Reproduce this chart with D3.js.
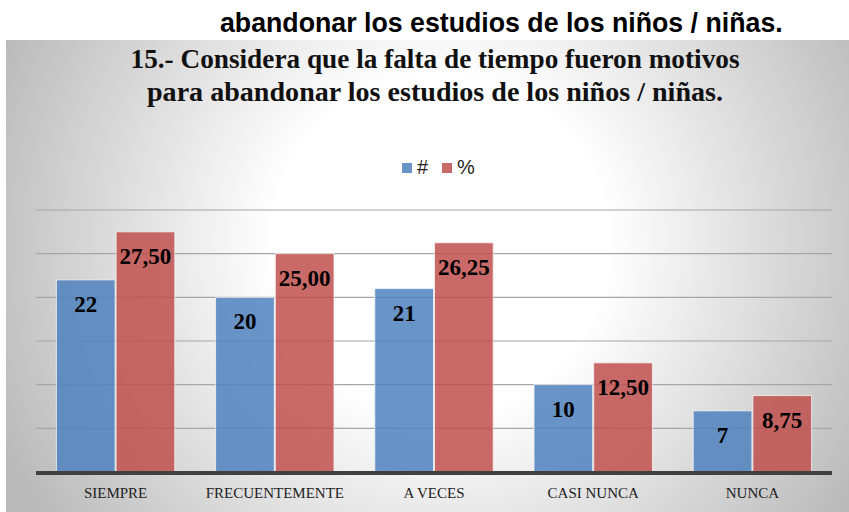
<!DOCTYPE html>
<html>
<head>
<meta charset="utf-8">
<script src="https://d3js.org/d3.v7.min.js"></script>
<style>
  body { margin: 0; background: #fff; }
  svg { display: block; }
</style>
</head>
<body>
<svg id="chart" width="849" height="512"></svg>
<script>
var categories = ['SIEMPRE', 'FRECUENTEMENTE', 'A VECES', 'CASI NUNCA', 'NUNCA'];
var countValues = [22, 20, 21, 10, 7];
var percentValues = [27.5, 25, 26.25, 12.5, 8.75];
var seriesNames = ['#', '%'];
var gridTicks = [5, 10, 15, 20, 25, 30];

var topText = 'abandonar los estudios de los niños / niñas.';
var titleLines = ['15.- Considera que la falta de tiempo fueron motivos',
                  'para abandonar los estudios de los niños / niñas.'];

var colors = { '#': '#4F81BD', '%': '#C0504D' };

var svg = d3.select('#chart');

// background gradient of the chart area
var defs = svg.append('defs');
var grad = defs.append('radialGradient')
  .attr('id', 'bg')
  .attr('gradientUnits', 'userSpaceOnUse')
  .attr('cx', 440).attr('cy', 245).attr('r', 480);
grad.append('stop').attr('offset', 0).attr('stop-color', '#ffffff');
grad.append('stop').attr('offset', 0.35).attr('stop-color', '#ffffff');
grad.append('stop').attr('offset', 1).attr('stop-color', '#bababa');

svg.append('rect')
  .attr('x', 6).attr('y', 40)
  .attr('width', 843).attr('height', 472)
  .attr('fill', 'url(#bg)');

// fits a text element to a target width by scaling its font size
function fit(sel, target) {
  var fs = parseFloat(sel.attr('font-size'));
  var w = sel.node().getComputedTextLength();
  sel.attr('font-size', (fs * target / w).toFixed(2));
}

var top1 = svg.append('text')
  .attr('x', 220).attr('y', 32)
  .attr('font-family', 'Liberation Sans, Arial, sans-serif')
  .attr('font-weight', 'bold')
  .attr('font-size', 22)
  .attr('fill', '#000')
  .text(topText);
fit(top1, 563);

// title: the original face is narrower, so squeeze a taller font to width
var titleWidths = [609, 576];
titleLines.forEach(function(t, i) {
  svg.append('text')
    .attr('x', 435).attr('y', 68 + i * 33)
    .attr('text-anchor', 'middle')
    .attr('font-family', 'Liberation Serif, Times New Roman, serif')
    .attr('font-weight', 'bold')
    .attr('font-size', 28)
    .attr('textLength', titleWidths[i])
    .attr('lengthAdjust', 'spacingAndGlyphs')
    .attr('fill', '#111')
    .text(t);
});

// legend
svg.append('rect')
  .attr('x', 388).attr('y', 143).attr('width', 93).attr('height', 39)
  .attr('fill', '#fff').attr('opacity', 0.35);
var legendX = [402, 442];
seriesNames.forEach(function(s, i) {
  svg.append('rect')
    .attr('x', legendX[i]).attr('y', 163)
    .attr('width', 10).attr('height', 10)
    .attr('fill', colors[s]).attr('fill-opacity', 0.85);
  svg.append('text')
    .attr('x', legendX[i] + 15).attr('y', 174)
    .attr('font-family', 'Liberation Sans, Arial, sans-serif')
    .attr('font-size', i === 0 ? 20 : 20)
    .attr('fill', '#222')
    .text(s);
});

// scales
var x0 = d3.scaleBand()
  .domain(categories)
  .range([36, 832])
  .paddingInner(0.25)
  .paddingOuter(0.125);

var x1 = d3.scaleBand()
  .domain(seriesNames)
  .range([0, x0.bandwidth()]);

var y = d3.scaleLinear()
  .domain([0, 30])
  .range([472, 210]);

// gridlines
svg.append('g')
  .selectAll('line')
  .data(gridTicks)
  .join('line')
    .attr('x1', 36).attr('x2', 832)
    .attr('y1', d => y(d)).attr('y2', d => y(d))
    .attr('stroke', '#a6a6a6')
    .attr('stroke-width', 1.2);

var data = categories.map(function(c, i) {
  return { cat: c, values: [
    { key: '#', value: countValues[i], label: String(countValues[i]) },
    { key: '%', value: percentValues[i], label: percentValues[i].toFixed(2).replace('.', ',') }
  ] };
});

var groups = svg.append('g')
  .selectAll('g')
  .data(data)
  .join('g')
    .attr('transform', d => `translate(${x0(d.cat)},0)`);

groups.selectAll('rect')
  .data(d => d.values)
  .join('rect')
    .attr('x', d => x1(d.key) + 0.5)
    .attr('y', d => y(d.value))
    .attr('width', x1.bandwidth() - 1)
    .attr('height', d => y(0) - y(d.value))
    .attr('fill', d => colors[d.key])
    .attr('fill-opacity', 0.85)
    .attr('stroke', '#f4f4f4')
    .attr('stroke-opacity', 0.8)
    .attr('stroke-width', 1);

groups.selectAll('text')
  .data(d => d.values)
  .join('text')
    .attr('x', d => x1(d.key) + x1.bandwidth() / 2)
    .attr('y', d => y(d.value) + 32)
    .attr('text-anchor', 'middle')
    .attr('font-family', 'Liberation Serif, Times New Roman, serif')
    .attr('font-weight', 'bold')
    .attr('font-size', 23)
    .attr('fill', '#000')
    .text(d => d.label);

// axis line and category labels
var xAxis = d3.axisBottom(x0).tickSize(0).tickPadding(14);
var ax = svg.append('g')
  .attr('transform', `translate(0,${y(0) + 1})`)
  .call(xAxis);
ax.select('.domain')
  .attr('d', 'M36,0H832')
  .attr('stroke', '#404040')
  .attr('stroke-width', 4);
ax.selectAll('text')
  .attr('font-family', 'Liberation Serif, Times New Roman, serif')
  .attr('font-size', 15)
  .attr('fill', '#222');
</script>
</body>
</html>
